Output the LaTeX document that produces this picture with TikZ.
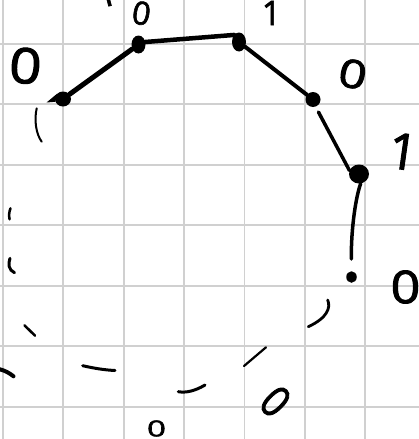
\documentclass[tikz,border=0pt]{standalone}
\usepackage{fontspec}
\setmainfont{Open Sans}
\newfontfamily\handfont{Open Sans}[FakeBold=2]
\usetikzlibrary{shapes.geometric}
\definecolor{gridgray}{RGB}{208,208,208}
\begin{document}
\begin{tikzpicture}[x=1pt,y=-1pt,
  gridline/.style={draw=gridgray, line width=1.8pt},
  dot/.style={ellipse, fill=black, inner sep=0pt, draw=none},
  edge/.style={line width=4.5pt, line cap=round},
  hand/.style={line cap=round},
  digit/.style={inner sep=0pt, font=\handfont\fontsize{#1}{#1}\selectfont},
]
\useasboundingbox (0,0) rectangle (419,439);
\clip (0,0) rectangle (419,439);
\fill[white] (0,0) rectangle (419,439);
% grid
\foreach \i in {0,...,6} {
  \draw[gridline] ({2.9+60.4*\i},0) -- ({2.9+60.4*\i},439);
  \draw[gridline] (0,{43.7+60.5*\i}) -- (419,{43.7+60.5*\i});
}
% dots
\node[dot, minimum width=16pt, minimum height=15pt] (A) at (63,99) {};
\node[dot, minimum width=14pt, minimum height=18pt] (B) at (138.5,44.5) {};
\node[dot, minimum width=14pt, minimum height=19pt] (C) at (239,42) {};
\node[dot, minimum width=15pt, minimum height=15pt] (D) at (313,99.5) {};
\node[dot, minimum width=20pt, minimum height=19pt] (E) at (359,174) {};
\node[dot, minimum width=10.5pt, minimum height=11.5pt] (F) at (351.5,277) {};
\fill (46.5,102.5) -- (A.140) -- (A.200) -- cycle;
% connectors
\draw[edge, line width=5pt] (A) -- (B);
\draw[edge] (B.20) -- (C.125);
\draw[edge, line width=4pt] (C) -- (D);
\draw[edge, line width=3.5pt, shorten <=6pt] (D.-70) -- (E.160);
\draw[edge, line width=3.5pt, shorten >=12pt] (E.-80) .. controls (356,196) and (351,228) .. (F);
% hand strokes of the dashed circle
\draw[hand, line width=2pt] (36.7,108.3) .. controls (34,120) and (36,134) .. (41.7,141.7);
\draw[hand, line width=2.5pt] (10.5,208.3) .. controls (9,212) and (8.8,216) .. (9.6,219.3);
\draw[hand, line width=3pt] (10,258.3) .. controls (8,264) and (8.5,270) .. (14.5,272.7);
\draw[hand, line width=2.5pt] (24.5,325.3) -- (35,335.7);
\draw[hand, line width=4pt] (0,369.3) .. controls (6,371) and (10,373.5) .. (13.5,376.3);
\draw[hand, line width=3pt] (82.7,365.7) .. controls (95,368.5) and (105,370) .. (115,370.5);
\draw[hand, line width=3pt] (178.3,391.7) .. controls (186,393) and (195,391) .. (205,385);
\draw[hand, line width=2.2pt] (244,366) -- (266,347.3);
\draw[hand, line width=2.8pt] (327.7,300) .. controls (331,308) and (327,318) .. (308.3,326.7);
% labels
\node[digit=49, rotate=-5, xscale=1.15] (l1) at (25.5,65.8) {0};
\node[digit=32, rotate=-10] (l2) at (141.5,13.2) {0};
\node[digit=34] (l3) at (271.5,13) {1};
\node[digit=39, rotate=-12, xscale=1.25] (l4) at (352.8,74) {0};
\node[digit=50, rotate=-8] (l5) at (403,151.5) {1};
\node[digit=45, xscale=1.15] (l6) at (405.5,287) {0};
\node[digit=44, rotate=-45, xscale=0.85] (l7) at (275.5,401.5) {0};
\node[digit=22, xscale=1.5] (l8) at (156.5,428.5) {0};
\node[digit=35, rotate=15] (l9) at (106,-6) {1};
\end{tikzpicture}
\end{document}
